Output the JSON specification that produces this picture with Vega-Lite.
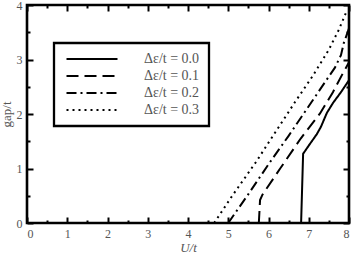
{
  "$schema": "https://vega.github.io/schema/vega-lite/v6.json",
  "width": 322,
  "height": 218,
  "autosize": {"type": "none"},
  "padding": {"left": 27, "top": 5, "right": 5, "bottom": 32},
  "background": "white",
  "config": {
    "view": {"stroke": "black", "strokeWidth": 2.6},
    "font": "Liberation Serif",
    "legend": {"strokeWidth": 2.3},
    "axis": {"domain": false, "grid": false, "ticks": true, "zindex": 1, "tickColor": "black", "tickOpacity": 1, "tickWidth": 2, "labelColor": "#555", "labelFont": "Liberation Serif", "labelFontSize": 12, "titleFont": "Liberation Serif", "titleColor": "#555", "titleFontWeight": "normal", "titleFontSize": 13}
  },
  "data": {"values": [
    {"U": 6.81, "gap": 0, "d": "Δε/t = 0.0"},
    {"U": 6.86, "gap": 1.27, "d": "Δε/t = 0.0"},
    {"U": 7.0, "gap": 1.42, "d": "Δε/t = 0.0"},
    {"U": 7.2, "gap": 1.63, "d": "Δε/t = 0.0"},
    {"U": 7.3, "gap": 1.76, "d": "Δε/t = 0.0"},
    {"U": 7.45, "gap": 2.02, "d": "Δε/t = 0.0"},
    {"U": 7.6, "gap": 2.2, "d": "Δε/t = 0.0"},
    {"U": 7.8, "gap": 2.4, "d": "Δε/t = 0.0"},
    {"U": 8.0, "gap": 2.62, "d": "Δε/t = 0.0"},
    {"U": 5.76, "gap": 0, "d": "Δε/t = 0.1"},
    {"U": 5.79, "gap": 0.42, "d": "Δε/t = 0.1"},
    {"U": 5.85, "gap": 0.52, "d": "Δε/t = 0.1"},
    {"U": 6.29, "gap": 1.0, "d": "Δε/t = 0.1"},
    {"U": 6.8, "gap": 1.55, "d": "Δε/t = 0.1"},
    {"U": 7.28, "gap": 2.01, "d": "Δε/t = 0.1"},
    {"U": 7.6, "gap": 2.4, "d": "Δε/t = 0.1"},
    {"U": 7.85, "gap": 2.75, "d": "Δε/t = 0.1"},
    {"U": 8.0, "gap": 2.95, "d": "Δε/t = 0.1"},
    {"U": 5.0, "gap": 0, "d": "Δε/t = 0.2"},
    {"U": 5.5, "gap": 0.53, "d": "Δε/t = 0.2"},
    {"U": 6.04, "gap": 1.12, "d": "Δε/t = 0.2"},
    {"U": 6.5, "gap": 1.6, "d": "Δε/t = 0.2"},
    {"U": 7.07, "gap": 2.22, "d": "Δε/t = 0.2"},
    {"U": 7.4, "gap": 2.58, "d": "Δε/t = 0.2"},
    {"U": 7.65, "gap": 2.85, "d": "Δε/t = 0.2"},
    {"U": 7.8, "gap": 3.08, "d": "Δε/t = 0.2"},
    {"U": 7.87, "gap": 3.3, "d": "Δε/t = 0.2"},
    {"U": 8.0, "gap": 3.57, "d": "Δε/t = 0.2"},
    {"U": 4.65, "gap": 0, "d": "Δε/t = 0.3"},
    {"U": 5.1, "gap": 0.5, "d": "Δε/t = 0.3"},
    {"U": 5.69, "gap": 1.12, "d": "Δε/t = 0.3"},
    {"U": 6.2, "gap": 1.7, "d": "Δε/t = 0.3"},
    {"U": 6.66, "gap": 2.22, "d": "Δε/t = 0.3"},
    {"U": 7.1, "gap": 2.7, "d": "Δε/t = 0.3"},
    {"U": 7.5, "gap": 3.18, "d": "Δε/t = 0.3"},
    {"U": 7.6, "gap": 3.33, "d": "Δε/t = 0.3"},
    {"U": 7.75, "gap": 3.55, "d": "Δε/t = 0.3"},
    {"U": 7.92, "gap": 3.85, "d": "Δε/t = 0.3"}
  ]},
  "resolve": {"axis": {"x": "independent", "y": "independent"}},
  "layer": [
    {
      "mark": {"type": "line", "color": "black", "strokeWidth": 2, "clip": true},
      "encoding": {
        "x": {"field": "U", "type": "quantitative", "scale": {"domain": [0, 8], "nice": false},
              "axis": {"orient": "bottom", "values": [0,1,2,3,4,5,6,7,8], "offset": -6, "tickSize": 6,
                       "format": "d", "labelPadding": 5, "title": "U/t", "titleFontStyle": "italic", "titlePadding": 2}},
        "y": {"field": "gap", "type": "quantitative", "scale": {"domain": [0, 4], "nice": false},
              "axis": {"orient": "left", "values": [0,1,2,3,4], "offset": -6, "tickSize": 6,
                       "format": "d", "labelPadding": 5, "title": "gap/t", "titlePadding": 3}},
        "strokeDash": {"field": "d", "type": "nominal",
          "scale": {"domain": ["Δε/t = 0.0", "Δε/t = 0.1", "Δε/t = 0.2", "Δε/t = 0.3"], "range": [[1, 0], [12, 6], [10, 4, 2, 4], [2, 4]]},
          "legend": {"orient": "none", "legendX": 27, "legendY": 38, "title": null, "strokeColor": "black", "padding": 9, "symbolType": "M-5.1,0H5.1", "symbolSize": 100, "symbolOffset": 22, "symbolStrokeWidth": 2, "symbolStrokeColor": "black", "labelFont": "Liberation Serif", "labelFontSize": 14, "labelColor": "#555", "labelOffset": 45, "rowPadding": 3}}
      }
    },
    {
      "mark": {"type": "line", "opacity": 0},
      "encoding": {
        "x": {"field": "U", "type": "quantitative",
              "axis": {"orient": "bottom", "values": [0.5,1.5,2.5,3.5,4.5,5.5,6.5,7.5], "offset": -3, "tickSize": 3, "labels": false, "title": null}},
        "y": {"field": "gap", "type": "quantitative",
              "axis": {"orient": "left", "values": [0.5,1.5,2.5,3.5], "offset": -3, "tickSize": 3, "labels": false, "title": null}}
      }
    },
    {
      "mark": {"type": "line", "opacity": 0},
      "encoding": {
        "x": {"field": "U", "type": "quantitative",
              "axis": {"orient": "top", "values": [0,1,2,3,4,5,6,7,8], "offset": -6, "tickSize": 6, "labels": false, "title": null}},
        "y": {"field": "gap", "type": "quantitative",
              "axis": {"orient": "right", "values": [0,1,2,3,4], "offset": -6, "tickSize": 6, "labels": false, "title": null}}
      }
    },
    {
      "mark": {"type": "line", "opacity": 0},
      "encoding": {
        "x": {"field": "U", "type": "quantitative",
              "axis": {"orient": "top", "values": [0.5,1.5,2.5,3.5,4.5,5.5,6.5,7.5], "offset": -3, "tickSize": 3, "labels": false, "title": null}},
        "y": {"field": "gap", "type": "quantitative",
              "axis": {"orient": "right", "values": [0.5,1.5,2.5,3.5], "offset": -3, "tickSize": 3, "labels": false, "title": null}}
      }
    }
  ]
}
